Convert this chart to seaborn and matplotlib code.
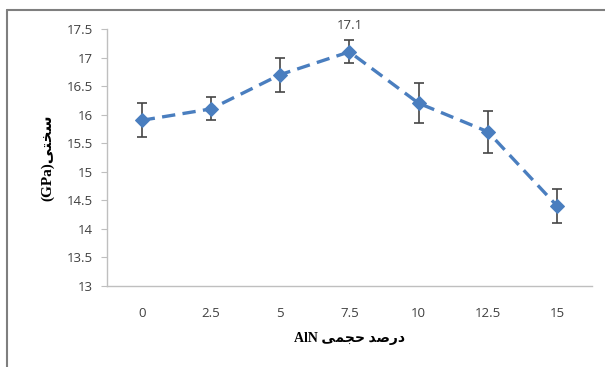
import matplotlib
matplotlib.use('Agg')
import matplotlib.pyplot as plt
import seaborn as sns
import numpy as np
import pandas as pd
from matplotlib.lines import Line2D

# datos
aln_labels = ['0', '2.5', '5', '7.5', '10', '12.5', '15']
hardness = [15.9, 16.1, 16.7, 17.1, 16.2, 15.7, 14.4]
hardness_err = [0.3, 0.2, 0.3, 0.2, 0.35, 0.37, 0.3]
y_ticks = [13, 13.5, 14, 14.5, 15, 15.5, 16, 16.5, 17, 17.5]
y_tick_labels = ['13', '13.5', '14', '14.5', '15', '15.5', '16', '16.5', '17', '17.5']

# Persian labels in visual (shaped) order
x_label = 'AlN \uFBFD\uFEE4\uFEA0\uFEA3 \uFEAA\uFEBB\uFEAD\uFEA9'   # درصد حجمی AlN
y_label = '(GPa)\uFBFD\uFE98\uFEA8\uFEB3'                          # سختی(GPa)

blue = '#4a7ebf'
axis_gray = '#bfbfbf'
text_gray = '#404040'

sns.set_style('white')
plt.rcParams['font.family'] = ['Open Sans', 'DejaVu Sans']

df = pd.DataFrame({'pos': np.arange(len(aln_labels)), 'hardness': hardness,
                   'err': hardness_err})

fig = plt.figure(figsize=(6.05, 3.67), dpi=100)
ax = fig.add_axes([0.177, 0.221, 0.801, 0.700])

ax.errorbar(df['pos'], df['hardness'], yerr=df['err'], fmt='none',
            ecolor='#454545', elinewidth=1.2, capsize=3.5, capthick=1.2, zorder=2)
sns.lineplot(data=df, x='pos', y='hardness', ax=ax, color=blue,
             linestyle=(0, (4, 2.2)), linewidth=2.4, marker='D', markersize=7,
             markeredgecolor=blue, zorder=3)

imax = int(np.argmax(hardness))
ax.annotate(f'{hardness[imax]:.1f}', (df['pos'][imax], hardness[imax]),
            xytext=(0, 14), textcoords='offset points', ha='center', va='bottom',
            fontsize=9.5, color=text_gray)

ax.set_xlim(-0.5, len(aln_labels) - 0.5)
ax.set_ylim(13, 17.5)
ax.set_xticks(df['pos'])
ax.set_xticklabels(aln_labels)
ax.set_yticks(y_ticks)
ax.set_yticklabels(y_tick_labels)
ax.tick_params(axis='y', which='both', left=True, length=4, width=0.8,
               color=axis_gray, labelsize=9.5, labelcolor=text_gray, pad=6)
ax.tick_params(axis='x', bottom=False, labelsize=9.5, labelcolor=text_gray, pad=12)

for side in ['top', 'right']:
    ax.spines[side].set_visible(False)
for side in ['left', 'bottom']:
    ax.spines[side].set_color(axis_gray)
    ax.spines[side].set_linewidth(1.0)

ax.set_xlabel(x_label, family=['Liberation Serif', 'DejaVu Sans'], fontweight='bold',
              fontsize=10, color='black', labelpad=8)
ax.set_ylabel(y_label, family=['Liberation Serif', 'DejaVu Sans'], fontweight='bold',
              fontsize=11, color='black', labelpad=9)

# outer frame of the chart (only top and left edges are visible)
fig.add_artist(Line2D([0.0116, 1.0], [0.973, 0.973], transform=fig.transFigure,
                      color='#7f7f7f', linewidth=1.5))
fig.add_artist(Line2D([0.0116, 0.0116], [0.0, 0.973], transform=fig.transFigure,
                      color='#7f7f7f', linewidth=1.5))

fig.savefig('out.png', dpi=100)
plt.close(fig)
